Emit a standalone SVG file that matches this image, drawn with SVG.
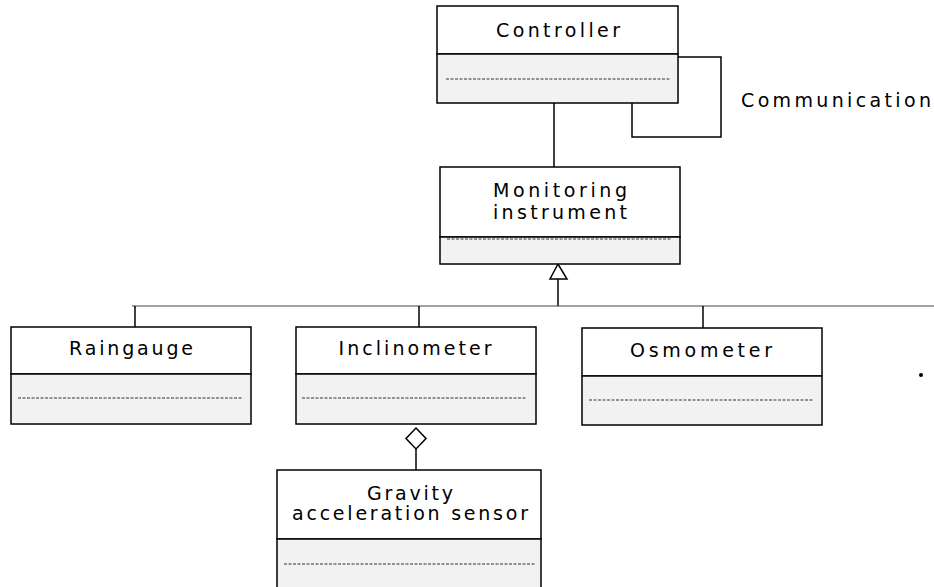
<svg xmlns="http://www.w3.org/2000/svg" width="934" height="587" viewBox="0 0 934 587">
<style>
.box{fill:#ffffff;stroke:#000;stroke-width:1.5}
.cmp{fill:#f2f2f2;stroke:#000;stroke-width:1.5}
.dash{stroke:#333;stroke-width:1;stroke-dasharray:3 1.5;fill:none}
.ln{stroke:#000;stroke-width:1.5;fill:none}
.lnt{stroke:#444;stroke-width:1.2;fill:none}
text{font-family:"DejaVu Sans","Noto Sans",sans-serif;font-size:19px;fill:#000;text-anchor:middle}
</style>
<rect width="934" height="587" fill="#fff"/>
<g id="connectors">
<line class="ln" x1="554" y1="103" x2="554" y2="167"/>
<polyline class="ln" points="678,57 721,57 721,137 632,137 632,103"/>
<line class="ln" x1="558" y1="279" x2="558" y2="306"/>
<polygon points="558,264 550,279 567,279" fill="#fff" stroke="#000" stroke-width="1.5"/>
<line class="lnt" x1="132" y1="306" x2="934" y2="306"/>
<line class="ln" x1="135" y1="306" x2="135" y2="327"/>
<line class="ln" x1="419" y1="306" x2="419" y2="327"/>
<line class="ln" x1="703" y1="306" x2="703" y2="328"/>
<line class="ln" x1="416" y1="449" x2="416" y2="470"/>
<polygon points="416,428 426,438.5 416,449 406,438.5" fill="#fff" stroke="#000" stroke-width="1.5"/>
</g>
<g id="controller">
<rect class="box" x="437" y="6" width="241" height="48"/>
<rect class="cmp" x="437" y="54" width="241" height="49"/>
<line class="dash" x1="446" y1="79" x2="670" y2="79"/>
<text x="558" y="37" textLength="124" lengthAdjust="spacing">Controller</text>
</g>
<g id="communication">
<text x="836" y="107" textLength="190" lengthAdjust="spacing">Communication</text>
</g>
<g id="monitoring">
<rect class="box" x="440" y="167" width="240" height="70"/>
<rect class="cmp" x="440" y="237" width="240" height="27"/>
<line class="dash" x1="447" y1="239" x2="672" y2="239"/>
<text x="560" y="197" textLength="134" lengthAdjust="spacing">Monitoring</text>
<text x="560" y="219" textLength="134" lengthAdjust="spacing">instrument</text>
</g>
<g id="raingauge">
<rect class="box" x="11" y="327" width="240" height="47"/>
<rect class="cmp" x="11" y="374" width="240" height="50"/>
<line class="dash" x1="18" y1="398" x2="243" y2="398"/>
<text x="131" y="355" textLength="124" lengthAdjust="spacing">Raingauge</text>
</g>
<g id="inclinometer">
<rect class="box" x="296" y="327" width="240" height="47"/>
<rect class="cmp" x="296" y="374" width="240" height="50"/>
<line class="dash" x1="302" y1="398" x2="527" y2="398"/>
<text x="415" y="355" textLength="153" lengthAdjust="spacing">Inclinometer</text>
</g>
<g id="osmometer">
<rect class="box" x="582" y="328" width="240" height="48"/>
<rect class="cmp" x="582" y="376" width="240" height="49"/>
<line class="dash" x1="589" y1="400" x2="814" y2="400"/>
<text x="701" y="357" textLength="142" lengthAdjust="spacing">Osmometer</text>
</g>
<g id="gravity">
<rect class="box" x="277" y="470" width="264" height="69"/>
<rect class="cmp" x="277" y="539" width="264" height="52"/>
<line class="dash" x1="284" y1="564" x2="535" y2="564"/>
<text x="410" y="500" textLength="86" lengthAdjust="spacing">Gravity</text>
<text x="410" y="520" textLength="236" lengthAdjust="spacing">acceleration sensor</text>
</g>
<circle cx="921" cy="375" r="2" fill="#000"/>
</svg>
